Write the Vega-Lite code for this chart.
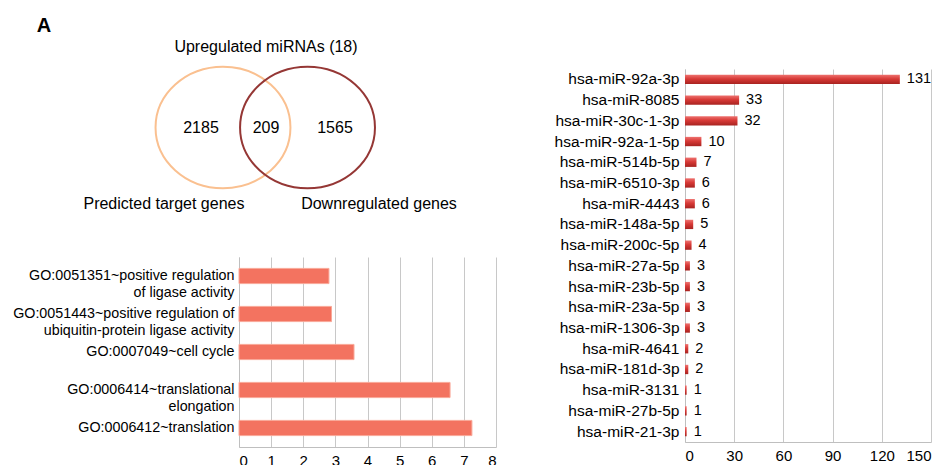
{
  "$schema": "https://vega.github.io/schema/vega-lite/v6.json",
  "background": "white",
  "padding": {"left": 12, "top": 16, "right": 5, "bottom": 5},
  "title": {"text": "A", "anchor": "start", "fontSize": 20, "fontWeight": "bold", "font": "Liberation Sans", "color": "#000", "dx": 24, "offset": -12},
  "config": {
    "font": "Liberation Sans",
    "view": {"stroke": null},
    "axis": {"labelFont": "Liberation Sans", "labelColor": "#000", "domainColor": "#BFBFBF", "gridColor": "#C8C8C8", "ticks": false, "title": null}
  },
  "spacing": 58,
  "hconcat": [
    {
      "spacing": 28,
      "vconcat": [
        {
          "width": 257,
          "height": 160,
          "title": {"text": "Upregulated miRNAs (18)", "fontSize": 16, "fontWeight": "normal", "anchor": "middle", "dx": -101.5, "offset": 8, "color": "#000", "font": "Liberation Sans"},
          "layer": [
            {
              "data": {"values": [
                {"set": "Predicted target genes", "cx": 44.87, "cy": 63.44},
                {"set": "Downregulated genes", "cx": 62.93, "cy": 63.44}
              ]},
              "mark": {"type": "point", "shape": "M-1,0A1,0.9,0,1,0,1,0A1,0.9,0,1,0,-1,0Z", "size": 18200, "filled": false, "strokeWidth": 2, "opacity": 1, "clip": false},
              "encoding": {
                "x": {"field": "cx", "type": "quantitative", "scale": {"domain": [48.29, 103.2], "nice": false, "zero": false}, "axis": null},
                "y": {"field": "cy", "type": "quantitative", "scale": {"domain": [0, 100], "nice": false}, "axis": null},
                "color": {"field": "set", "type": "nominal", "scale": {"domain": ["Predicted target genes", "Downregulated genes"], "range": ["#FAC090", "#953735"]}, "legend": null}
              }
            },
            {
              "data": {"values": [
                {"label": "2185", "tx": 40.17, "ty": 63.1},
                {"label": "209", "tx": 54.06, "ty": 63.1},
                {"label": "1565", "tx": 68.8, "ty": 63.1},
                {"label": "Predicted target genes", "tx": 32.26, "ty": 15.6},
                {"label": "Downregulated genes", "tx": 78.2, "ty": 15.6}
              ]},
              "mark": {"type": "text", "fontSize": 16, "color": "#000", "font": "Liberation Sans", "clip": false},
              "encoding": {
                "x": {"field": "tx", "type": "quantitative", "scale": {"domain": [48.29, 103.2], "nice": false, "zero": false}, "axis": null},
                "y": {"field": "ty", "type": "quantitative", "scale": {"domain": [0, 100], "nice": false}, "axis": null},
                "text": {"field": "label", "type": "nominal"}
              }
            }
          ]
        },
        {
          "width": 257,
          "height": 190,
          "data": {"values": [
            {"term": "GO:0051351~positive regulation|of ligase activity", "value": 2.8},
            {"term": "GO:0051443~positive regulation of|ubiquitin-protein ligase activity", "value": 2.88},
            {"term": "GO:0007049~cell cycle", "value": 3.58},
            {"term": "GO:0006414~translational|elongation", "value": 6.57},
            {"term": "GO:0006412~translation", "value": 7.25}
          ]},
          "mark": {"type": "bar", "color": "#F37360", "stroke": "#F9A898", "strokeWidth": 1},
          "encoding": {
            "y": {"field": "term", "type": "nominal", "sort": null, "scale": {"paddingInner": 0.6, "paddingOuter": 0.3},
                  "axis": {"labelExpr": "split(datum.label, '|')", "labelFontSize": 14.3, "labelLineHeight": 17, "labelLimit": 400, "labelPadding": 5}},
            "x": {"field": "value", "type": "quantitative", "scale": {"domain": [0, 8], "nice": false},
                  "axis": {"values": [0, 1, 2, 3, 4, 5, 6, 7, 8], "labelFontSize": 15, "labelPadding": 6, "grid": true}}
          }
        }
      ]
    },
    {
      "width": 246,
      "height": 373,
      "title": {"text": " ", "fontSize": 10, "offset": 35},
      "data": {"values": [
        {"mirna": "hsa-miR-92a-3p", "targets": 131},
        {"mirna": "hsa-miR-8085", "targets": 33},
        {"mirna": "hsa-miR-30c-1-3p", "targets": 32},
        {"mirna": "hsa-miR-92a-1-5p", "targets": 10},
        {"mirna": "hsa-miR-514b-5p", "targets": 7},
        {"mirna": "hsa-miR-6510-3p", "targets": 6},
        {"mirna": "hsa-miR-4443", "targets": 6},
        {"mirna": "hsa-miR-148a-5p", "targets": 5},
        {"mirna": "hsa-miR-200c-5p", "targets": 4},
        {"mirna": "hsa-miR-27a-5p", "targets": 3},
        {"mirna": "hsa-miR-23b-5p", "targets": 3},
        {"mirna": "hsa-miR-23a-5p", "targets": 3},
        {"mirna": "hsa-miR-1306-3p", "targets": 3},
        {"mirna": "hsa-miR-4641", "targets": 2},
        {"mirna": "hsa-miR-181d-3p", "targets": 2},
        {"mirna": "hsa-miR-3131", "targets": 1},
        {"mirna": "hsa-miR-27b-5p", "targets": 1},
        {"mirna": "hsa-miR-21-3p", "targets": 1}
      ]},
      "encoding": {
        "y": {"field": "mirna", "type": "nominal", "sort": null, "scale": {"paddingInner": 0.55, "paddingOuter": 0.275},
              "axis": {"labelFontSize": 15.5, "labelPadding": 6, "labelLimit": 300}},
        "x": {"field": "targets", "type": "quantitative", "scale": {"domain": [0, 150], "nice": false},
              "axis": {"values": [0, 30, 60, 90, 120, 150], "labelFontSize": 15, "labelPadding": 6, "grid": true}}
      },
      "layer": [
        {"mark": {"type": "bar", "color": {"gradient": "linear", "x1": 0, "y1": 0, "x2": 0, "y2": 1, "stops": [{"offset": 0, "color": "#EE7370"}, {"offset": 0.45, "color": "#D83A37"}, {"offset": 1, "color": "#A82320"}]}}},
        {"mark": {"type": "text", "align": "left", "dx": 7, "fontSize": 14.5, "color": "#000", "font": "Liberation Sans"}, "encoding": {"text": {"field": "targets", "type": "quantitative"}}}
      ]
    }
  ]
}
